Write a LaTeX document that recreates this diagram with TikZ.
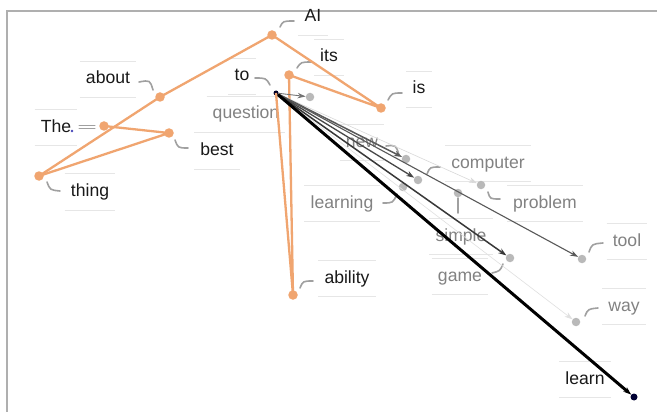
\documentclass[tikz,border=0pt]{standalone}
\usepackage{fontspec}
\setmainfont{Liberation Sans}
\usetikzlibrary{arrows.meta}
\definecolor{orng}{RGB}{240,165,112}
\definecolor{dotg}{RGB}{185,185,185}
\definecolor{lblg}{RGB}{130,130,130}
\definecolor{boxl}{RGB}{230,230,230}
\definecolor{tickc}{RGB}{160,160,160}
\definecolor{framec}{RGB}{175,175,175}
\tikzset{
  odot/.style={circle,fill=orng,inner sep=0pt,minimum size=9.5pt},
  gdot/.style={circle,fill=dotg,inner sep=0pt,minimum size=8.5pt},
  kdot/.style={circle,fill=black!85!blue,inner sep=0pt,minimum size=5pt},
  lbl/.style={font=\fontsize{17.6}{20}\selectfont,inner xsep=6pt,inner ysep=0pt,
    minimum height=36pt,text height=12.5pt,text depth=3.5pt,text=black!90},
  glbl/.style={lbl,text=lblg},
  oline/.style={draw=orng,line width=2.3pt,line join=round},
  tick/.style={draw=tickc,line width=1.6pt,line cap=round},
  arr/.style={-{Stealth[length=8pt,width=5.5pt]}},
}
\begin{document}
\begin{tikzpicture}[x=1pt,y=-1pt]
\useasboundingbox (0,0) rectangle (657,412);
\fill[white] (0,0) rectangle (657,412);
\draw[framec,line width=1.6pt] (7,412) -- (7,11) -- (657,11);

% labels
\node[lbl]  (lAI)   at (313,17)    {AI};
\node[lbl]  (labout) at (108,79.5) {about};
\node[lbl]  (lThe)  at (56,127.5)  {The};
\node[lbl]  (lbest) at (217,151)   {best};
\node[lbl]  (lthing) at (90,192)   {thing};
\node[lbl]  (lits)  at (329,57.5)  {its};
\node[lbl]  (lto)   at (242,76.5)  {to};
\node[lbl]  (lis)   at (419,89.5)  {is};
\node[glbl] (lquestion) at (246,114.5) {question};
\node[lbl]  (lability) at (347,278.5) {ability};
\node[glbl] (lnew)  at (362,142.5) {new};
\node[glbl] (lcomputer) at (488,163.5) {computer};
\node[glbl] (llearning) at (342,203.5) {learning};
\node[glbl] (lproblem) at (545,203.5) {problem};
\node[glbl] (lsimple) at (461,236.5) {simple};
\node[glbl] (lgame) at (460,276.5) {game};
\node[glbl] (ltool) at (627,241.5) {tool};
\node[glbl] (lway)  at (624,306.5) {way};
\node[lbl]  (llearn) at (585,379.5) {learn};

\foreach \n in {lAI,labout,lThe,lbest,lthing,lits,lto,lis,lquestion,lability,lnew,lcomputer,llearning,lproblem,lsimple,lgame,ltool,lway,llearn}
  \draw[boxl,line width=0.8pt] (\n.north west) -- (\n.north east) (\n.south west) -- (\n.south east);

% ticks
\draw[tick] (280,27) .. controls (283,21) .. (294,21);
\draw[tick] (139,82) .. controls (150,80) .. (153,90);
\draw[tick] (175,140) .. controls (178,148) .. (188,148);
\draw[tick] (47,182) .. controls (50,190) .. (60,191);
\draw[tick] (297,68) .. controls (301,62) .. (312,62);
\draw[tick] (255,78) .. controls (266,78) .. (270,85);
\draw[tick] (388,100) .. controls (392,93) .. (402,93);
\draw[tick] (300,288) .. controls (303,281) .. (313,281);
\draw[tick] (427,174) .. controls (430,167) .. (440,167);
\draw[tick] (383,203) .. controls (393,203) .. (397,194);
\draw[tick] (488,192) .. controls (490,199) .. (500,199);
\draw[tick] (492,273) .. controls (500,271) .. (503,264);
\draw[tick] (589,252) .. controls (592,244) .. (603,243);
\draw[tick] (585,316) .. controls (588,309) .. (598,308);
\draw[tick] (386,146) .. controls (396,145) .. (399,155);
\draw[tick,line width=1pt] (79,125.5) -- (95,125.5) (79,128.5) -- (95,128.5);
\draw[tick] (458,198) -- (458,213);

% dots
\node[odot] (AI) at (272,35) {};
\node[odot] (about) at (160,97) {};
\node[odot] (The) at (104,126) {};
\node[odot] (best) at (169,133) {};
\node[odot] (thing) at (39,176) {};
\node[odot] (its) at (289,75) {};
\node[odot] (is) at (381,108) {};
\node[odot] (ability) at (293,295) {};
\node[gdot] (question) at (310,97) {};
\node[gdot] (new) at (406,159) {};
\node[gdot] (computer) at (418,180) {};
\node[gdot] (learning) at (403,187) {};
\node[gdot] (simple) at (458,193) {};
\node[gdot] (problem) at (481,185) {};
\node[gdot] (game) at (510,258) {};
\node[gdot] (tool) at (582,259) {};
\node[gdot] (way) at (576,322) {};
\node[kdot] (to) at (276,93) {};
\node[kdot,minimum size=7pt,fill=black!80!blue] (learn) at (634,397) {};
\fill[blue!45!gray] (72,131) circle (1.3pt);

% orange links
\draw[oline] (thing.center) -- (about.center) -- (AI.center) -- (is.center) -- (its.center) -- (ability.center) -- (to.center);
\draw[oline] (The.center) -- (best.center) -- (thing.center);

% attention arrows
\draw[arr,black!12,line width=0.6pt] (to) -- (way);
\draw[arr,black!15,line width=0.6pt] (to) -- (problem);
\draw[arr,black!55,line width=0.9pt] (to) -- (question);
\draw[arr,black!65,line width=1.1pt] (to) -- (tool);
\draw[arr,black!65,line width=1.5pt] (to) -- (new);
\draw[arr,black!72,line width=1.3pt] (to) -- (computer);
\draw[arr,black!78,line width=1.5pt] (to) -- (game);
\draw[arr,black,line width=3pt] (to) -- (learn);
\end{tikzpicture}
\end{document}
